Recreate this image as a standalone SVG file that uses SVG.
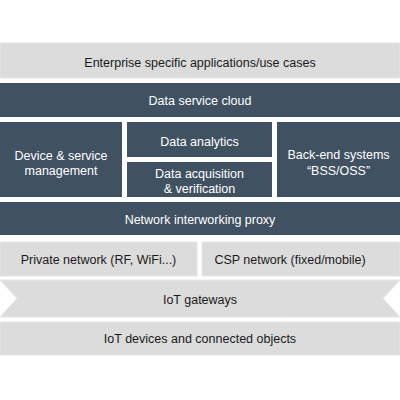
<svg xmlns="http://www.w3.org/2000/svg" width="400" height="400" viewBox="0 0 400 400">
<style>
.dark{fill:#405162;}
.light{fill:#dcdcdc;stroke:#e6e6e6;stroke-width:1;}
text{font-family:"Liberation Sans",Arial,sans-serif;font-size:12.5px;text-anchor:middle;}
.w{fill:#ffffff;}
.b{fill:#1a1a1a;}
</style>
<rect width="400" height="400" fill="#ffffff"/>
<g id="enterprise"><rect class="light" x="0" y="43" width="400" height="35"/><text class="b" x="200" y="66.5">Enterprise specific applications/use cases</text></g>
<g id="data-service-cloud"><rect class="dark" x="0" y="83" width="400" height="34"/><text class="w" x="200" y="104.5">Data service cloud</text></g>
<g id="device-service"><rect class="dark" x="0" y="122" width="122" height="75"/><text class="w" x="61" y="159.5">Device &amp; service</text><text class="w" x="61" y="174.5">management</text></g>
<g id="data-analytics"><rect class="dark" x="127" y="122" width="145" height="35"/><text class="w" x="199.5" y="146">Data analytics</text></g>
<g id="data-acquisition"><rect class="dark" x="127" y="162" width="145" height="35"/><text class="w" x="199.5" y="177.5">Data acquisition</text><text class="w" x="199.5" y="192.5">&amp; verification</text></g>
<g id="back-end"><rect class="dark" x="277" y="122" width="123" height="75"/><text class="w" x="338.5" y="158.5">Back-end systems</text><text class="w" x="338.5" y="174.5">“BSS/OSS”</text></g>
<g id="network-proxy"><rect class="dark" x="0" y="202" width="400" height="33"/><text class="w" x="200" y="223.5">Network interworking proxy</text></g>
<g id="private-network"><rect class="light" x="0" y="242" width="197" height="34"/><text class="b" x="98.5" y="263.5">Private network (RF, WiFi...)</text></g>
<g id="csp-network"><rect class="light" x="202" y="242" width="198" height="34"/><text class="b" x="290" y="263.5">CSP network (fixed/mobile)</text></g>
<g id="iot-gateways"><polygon class="light" points="0,280 400,280 383,298.5 400,317 0,317 17,298.5"/><text class="b" x="200" y="303.5">IoT gateways</text></g>
<g id="iot-devices"><rect class="light" x="0" y="322" width="400" height="33"/><text class="b" x="200" y="342.5">IoT devices and connected objects</text></g>
<g id="connectors"></g>
</svg>
